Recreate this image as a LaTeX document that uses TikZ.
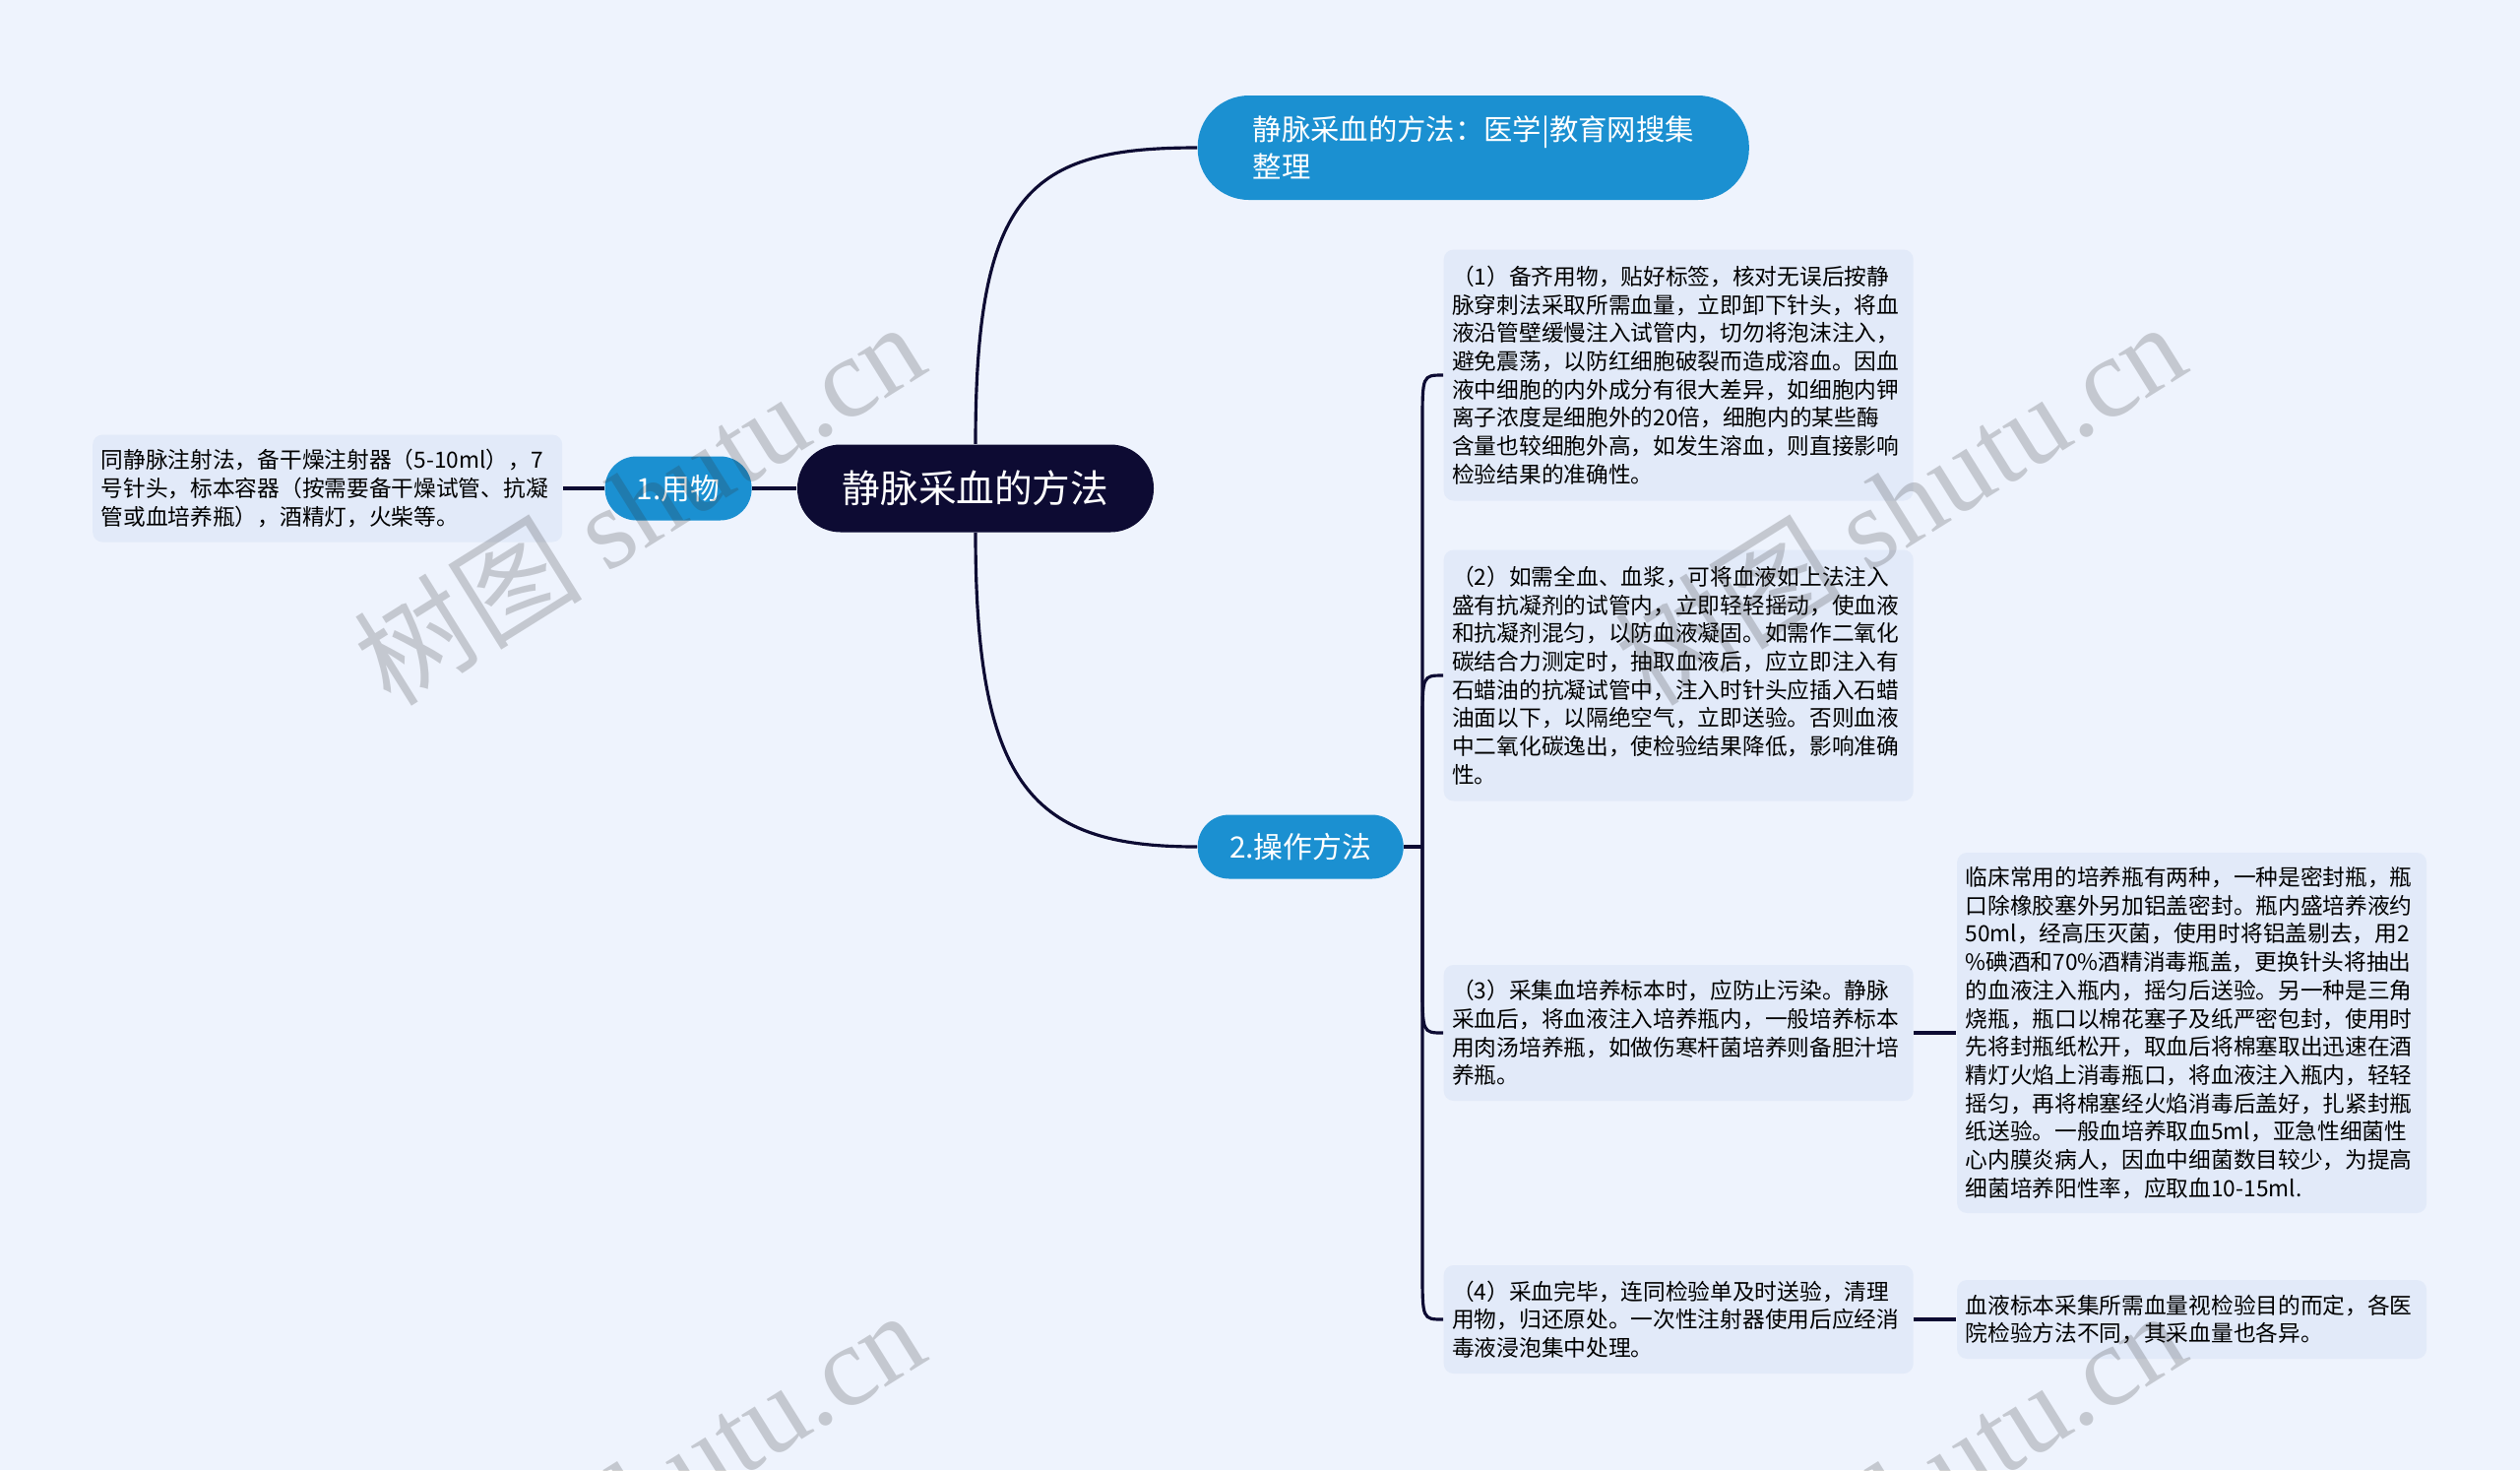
\documentclass[tikz,border=0pt]{standalone}
\usepackage{fontspec}
\usepackage{xcolor}
\usepackage{tikz}
\usetikzlibrary{positioning}
\newfontfamily\cjk{Noto Sans CJK SC}
\newfontfamily\wmserif{Liberation Serif}
\definecolor{mmbg}{HTML}{EEF3FD}
\definecolor{mmleaf}{HTML}{E2EAF9}
\definecolor{mmblue}{HTML}{1B90D1}
\definecolor{mmnavy}{HTML}{0D0B33}

\begin{document}
\begin{tikzpicture}[x=0.1mm, y=-0.1mm, font=\cjk,
        leaf/.style={fill=mmleaf, rounded corners=1mm, text width=46mm, align=left, inner xsep=0.85mm, inner ysep=1mm,
          font=\cjk\fontsize{6.46pt}{8.17pt}\selectfont},
        pill/.style={fill=mmblue, text=white, rounded corners=3.2mm, minimum height=6.5mm, inner xsep=0mm,
          font=\cjk\fontsize{8.5pt}{10pt}\selectfont},
        topbox/.style={fill=mmblue, text=white, rounded corners=5.2mm, align=left, inner xsep=5.6mm,
          minimum width=56mm, minimum height=10.6mm, font=\cjk\fontsize{8.35pt}{10.8pt}\selectfont},
        rootbox/.style={fill=mmnavy, text=white, rounded corners=4.4mm, minimum width=36.2mm, minimum height=8.9mm,
          font=\cjk\fontsize{11pt}{13pt}\selectfont},
        link/.style={draw=mmnavy, line width=0.9pt},
        wmtext/.style={text=black!80, text opacity=0.22, rotate=32, font=\fontsize{33pt}{36pt}\selectfont}]
        \fill[mmbg] (0,0) rectangle (2560,1493);
        \useasboundingbox (0,0) rectangle (2560,1493);

        \node[rootbox] (root) at (991,496) {静脉采血的方法};
        \node[pill, minimum width=14.9mm, left=4.5mm of root] (yongwu) {1.用物};
        \node[leaf, minimum height=10.9mm, left=4.2mm of yongwu] (tools) {同静脉注射法，备干燥注射器（5-10ml），7\\号针头，标本容器（按需要备干燥试管、抗凝\\管或血培养瓶），酒精灯，火柴等。};
        \node[topbox, anchor=west] (title) at (1216,150) {静脉采血的方法：医学|教育网搜集\\整理};
        \node[pill, minimum width=20.9mm, anchor=west] (caozuo) at (1216,860) {2.操作方法};
        \coordinate (hub) at (1445,860);

        \node[leaf, minimum height=25.5mm, anchor=west] (stepa) at (1466,381) {（1）备齐用物，贴好标签，核对无误后按静\\脉穿刺法采取所需血量，立即卸下针头，将血\\液沿管壁缓慢注入试管内，切勿将泡沫注入，\\避免震荡，以防红细胞破裂而造成溶血。因血\\液中细胞的内外成分有很大差异，如细胞内钾\\离子浓度是细胞外的20倍，细胞内的某些酶\\含量也较细胞外高，如发生溶血，则直接影响\\检验结果的准确性。};
        \node[leaf, minimum height=25.5mm, anchor=west] (stepb) at (1466,686) {（2）如需全血、血浆，可将血液如上法注入\\盛有抗凝剂的试管内，立即轻轻摇动，使血液\\和抗凝剂混匀，以防血液凝固。如需作二氧化\\碳结合力测定时，抽取血液后，应立即注入有\\石蜡油的抗凝试管中，注入时针头应插入石蜡\\油面以下，以隔绝空气，立即送验。否则血液\\中二氧化碳逸出，使检验结果降低，影响准确\\性。};
        \node[leaf, minimum height=13.8mm, anchor=west] (stepc) at (1466,1049) {（3）采集血培养标本时，应防止污染。静脉\\采血后，将血液注入培养瓶内，一般培养标本\\用肉汤培养瓶，如做伤寒杆菌培养则备胆汁培\\养瓶。};
        \node[leaf, minimum height=11mm, anchor=west] (stepd) at (1466,1340) {（4）采血完毕，连同检验单及时送验，清理\\用物，归还原处。一次性注射器使用后应经消\\毒液浸泡集中处理。};
        \node[leaf, minimum height=36.6mm, right=4.3mm of stepc] (bottle) {临床常用的培养瓶有两种，一种是密封瓶，瓶\\口除橡胶塞外另加铝盖密封。瓶内盛培养液约\\50ml，经高压灭菌，使用时将铝盖剔去，用2\\ \%碘酒和70\%酒精消毒瓶盖，更换针头将抽出\\的血液注入瓶内，摇匀后送验。另一种是三角\\烧瓶，瓶口以棉花塞子及纸严密包封，使用时\\先将封瓶纸松开，取血后将棉塞取出迅速在酒\\精灯火焰上消毒瓶口，将血液注入瓶内，轻轻\\摇匀，再将棉塞经火焰消毒后盖好，扎紧封瓶\\纸送验。一般血培养取血5ml，亚急性细菌性\\心内膜炎病人，因血中细菌数目较少，为提高\\细菌培养阳性率，应取血10-15ml.};
        \node[leaf, minimum height=8mm, right=4.3mm of stepd] (volume) {血液标本采集所需血量视检验目的而定，各医\\院检验方法不同，其采血量也各异。};

        \draw[link] (tools) -- (yongwu);
        \draw[link] (yongwu) -- (root);
        \draw[link] (root.north) .. controls ([yshift=25.6mm]root.north) and ([xshift=-17mm]title.west) .. (title.west);
        \draw[link] (root.south) .. controls ([yshift=-26mm]root.south) and ([xshift=-16.6mm]caozuo.west) .. (caozuo.west);
        \draw[link] (caozuo) -- (hub);
        \foreach \leafname/\dir in {stepa/-1, stepb/-1, stepc/1, stepd/1} {
          \coordinate (j\leafname) at (hub |- \leafname.west);
          \draw[link] (hub) -- ([yshift=\dir*5mm]j\leafname) .. controls (j\leafname) .. (\leafname.west);
        }
        \draw[link] (stepc) -- (bottle);
        \draw[link] (stepd) -- (volume);

        % watermarks
        \foreach \wx/\wy [count=\wi] in {649/510, 1930/510, 649/1514, 1930/1514}
          \node[wmtext] (wm\wi) at (\wx,\wy) {\cjk 树图 \wmserif shutu.cn};
      \end{tikzpicture}
\end{document}
